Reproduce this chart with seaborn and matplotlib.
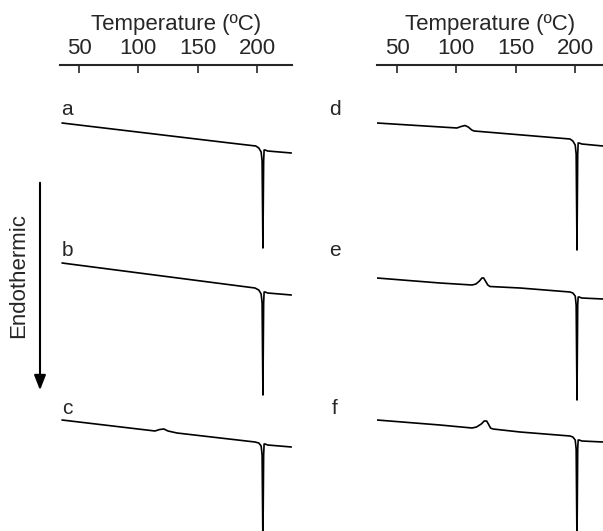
import pandas as pd
import seaborn as sns
import matplotlib.pyplot as plt
from matplotlib.patches import FancyArrowPatch

# DSC traces: temperature (C) and heat flow (arbitrary units, offset per trace)
temp_a = [35.7, 177.2, 199.0, 201.5, 203.5, 204.3, 205.0, 205.6, 206.0, 206.8, 209.0, 229.0]
flow_a = [40.8, 38.8, 38.5, 38.3, 37.9, 37.0, 28.3, 37.0, 38.1, 38.1, 38.0, 37.8]

temp_b = [35.7, 198.3, 201.5, 203.5, 204.3, 205.0, 205.6, 206.0, 206.8, 209.0, 229.0]
flow_b = [26.8, 24.3, 24.1, 23.7, 22.8, 13.6, 22.8, 23.9, 23.9, 23.8, 23.6]

temp_c = [35.7, 114.0, 118.0, 121.6, 125.0, 132.6, 198.3, 201.5, 203.5, 204.3, 205.0, 205.6,
          206.0, 206.8, 209.0, 229.0]
flow_c = [11.1, 10.0, 10.15, 10.2, 10.0, 9.8, 8.9, 8.8, 8.5, 7.6, -1.4, 7.6,
          8.7, 8.7, 8.6, 8.4]

temp_d = [33.2, 100.5, 104.0, 107.3, 110.0, 113.0, 115.0, 195.7, 198.1, 200.1, 200.9, 201.6,
          202.2, 202.6, 203.4, 205.6, 223.5]
flow_d = [40.8, 40.3, 40.45, 40.55, 40.4, 40.1, 40.0, 39.2, 39.0, 38.6, 37.7, 28.1,
          37.7, 38.8, 38.8, 38.7, 38.5]

temp_e = [33.2, 86.2, 113.2, 116.5, 119.5, 121.5, 123.0, 124.5, 126.5, 128.3, 153.6, 195.7,
          198.1, 200.1, 200.9, 201.6, 202.2, 202.6, 203.4, 205.6, 223.5]
flow_e = [25.3, 24.8, 24.6, 24.7, 25.0, 25.3, 25.3, 25.0, 24.6, 24.45, 24.3, 23.9,
          23.8, 23.5, 22.6, 13.1, 22.6, 23.4, 23.4, 23.3, 23.2]

temp_f = [33.2, 86.2, 113.2, 117.0, 121.0, 123.5, 125.5, 127.0, 128.8, 130.9, 153.6, 195.7,
          198.1, 200.1, 200.9, 201.6, 202.2, 202.6, 203.4, 205.6, 223.5]
flow_f = [11.1, 10.6, 10.3, 10.4, 10.7, 11.0, 11.0, 10.7, 10.3, 10.2, 9.9, 9.5,
          9.4, 9.1, 8.2, -1.4, 8.2, 9.1, 9.1, 9.0, 8.9]

labels = ['a', 'b', 'c', 'd', 'e', 'f']
ticks = [50, 100, 150, 200]

sns.set_style('white')
plt.rcParams['font.family'] = ['Liberation Sans', 'DejaVu Sans']

fig = plt.figure(figsize=(6.03, 5.31), dpi=100)
ax_left = fig.add_axes([60 / 603, 0, 232 / 603, 466 / 531])
ax_right = fig.add_axes([377 / 603, 0, 226 / 603, 466 / 531])

panels = [
    (ax_left, (34.0, 229.5), [(temp_a, flow_a), (temp_b, flow_b), (temp_c, flow_c)], labels[:3], 39.9),
    (ax_right, (33.2, 223.5), [(temp_d, flow_d), (temp_e, flow_e), (temp_f, flow_f)], labels[3:], -2.2),
]
label_y = [42.1, 28.0, 12.3]

for ax, xlim, traces, labs, lab_x in panels:
    for (t, f), lab, ly in zip(traces, labs, label_y):
        df = pd.DataFrame({'T': t, 'flow': f})
        sns.lineplot(data=df, x='T', y='flow', ax=ax, color='black', lw=1.2,
                     sort=False, estimator=None)
        ax.text(lab_x, ly, lab, fontsize=15, ha='center', va='center', clip_on=False)
    ax.set_xlim(*xlim)
    ax.set_ylim(0, 46.6)
    for side in ['left', 'right', 'bottom']:
        ax.spines[side].set_visible(False)
    ax.spines['top'].set_linewidth(1.5)
    ax.xaxis.tick_top()
    ax.xaxis.set_label_position('top')
    ax.set_xticks(ticks)
    ax.tick_params(axis='x', direction='in', length=6, width=1.2, labelsize=16, pad=4)
    ax.set_yticks([])
    ax.set_ylabel('')
    ax.set_xlabel('Temperature (ºC)', fontsize=16, labelpad=6)

# endothermic direction arrow
fig.patches.append(FancyArrowPatch(
    (40 / 603, 1 - 180 / 531), (40 / 603, 1 - 393 / 531), transform=fig.transFigure,
    arrowstyle='-|>,head_length=9,head_width=3.5', color='black', lw=1.5))
fig.text(19 / 603, 1 - 275 / 531, 'Endothermic', rotation=90, fontsize=16,
         ha='center', va='center')

plt.savefig('out.png', dpi=100)
